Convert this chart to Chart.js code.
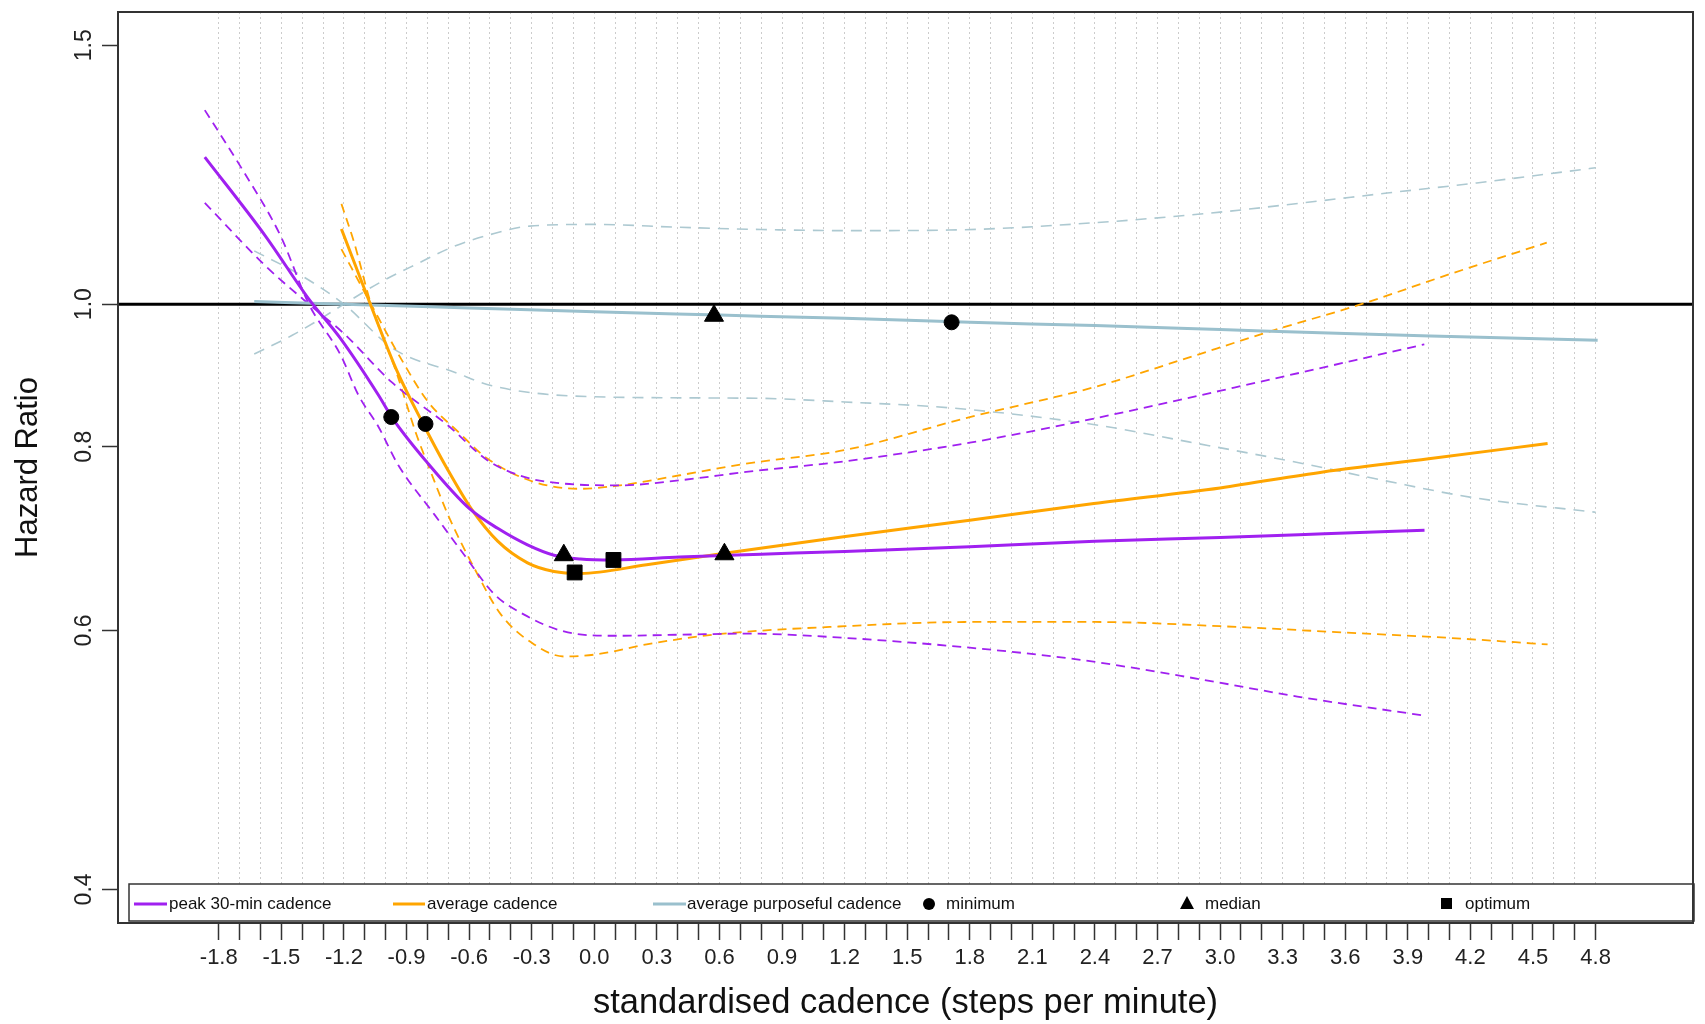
<!DOCTYPE html>
<html>
<head>
<meta charset="utf-8">
<script src="https://cdn.jsdelivr.net/npm/chart.js@4.4.0/dist/chart.umd.min.js"></script>
<style>
  html, body { margin: 0; padding: 0; background: #fff; }
</style>
</head>
<body>
<canvas id="hrChart" width="1705" height="1024"></canvas>
<script>
// Axis ticks
const xLabelTicks = [-1.8, -1.5, -1.2, -0.9, -0.6, -0.3, 0.0, 0.3, 0.6, 0.9, 1.2, 1.5, 1.8, 2.1, 2.4, 2.7, 3.0, 3.3, 3.6, 3.9, 4.2, 4.5, 4.8];
const yTicks = [0.4, 0.6, 0.8, 1.0, 1.5];
const refHR = 1.0;

// Series: [standardised cadence, hazard ratio]
const peakFit = [[-1.867, 1.259], [-1.577, 1.113], [-1.368, 1.008], [-1.215, 0.947], [-1.034, 0.867], [-0.971, 0.838], [-0.796, 0.779], [-0.598, 0.726], [-0.463, 0.704], [-0.320, 0.686], [-0.193, 0.675], [-0.066, 0.671], [0.093, 0.670], [0.409, 0.673], [0.8, 0.676], [1.2, 0.679], [1.8, 0.684], [2.4, 0.690], [3.0, 0.694], [3.5, 0.698], [3.98, 0.702]];
const peakBandA = [[-1.867, 1.355], [-1.686, 1.234], [-1.504, 1.113], [-1.368, 1.0], [-1.215, 0.923], [-1.13, 0.867], [-1.034, 0.825], [-0.939, 0.777], [-0.765, 0.719], [-0.622, 0.675], [-0.479, 0.635], [-0.336, 0.615], [-0.145, 0.599], [0.093, 0.595], [0.41, 0.596], [0.728, 0.597], [1.204, 0.593], [1.8, 0.584], [2.33, 0.573], [2.9, 0.556], [3.37, 0.541], [3.98, 0.525]];
const peakBandB = [[-1.867, 1.172], [-1.577, 1.062], [-1.368, 1.0], [-1.2, 0.955], [-0.971, 0.885], [-0.701, 0.827], [-0.511, 0.783], [-0.336, 0.763], [-0.145, 0.755], [0.124, 0.753], [0.41, 0.759], [0.728, 0.769], [1.204, 0.782], [1.8, 0.805], [2.395, 0.836], [3.183, 0.885], [3.979, 0.939]];

const avgFit = [[-1.212, 1.125], [-1.070, 0.997], [-0.943, 0.899], [-0.82, 0.829], [-0.701, 0.771], [-0.590, 0.726], [-0.463, 0.690], [-0.320, 0.667], [-0.193, 0.658], [-0.066, 0.656], [0.251, 0.665], [0.624, 0.677], [1.204, 0.695], [1.8, 0.713], [2.395, 0.732], [3.0, 0.750], [3.494, 0.769], [4.0, 0.785], [4.57, 0.804]];
const avgBandA = [[-1.212, 1.170], [-1.15, 1.10], [-1.07, 1.0], [-0.95, 0.90], [-0.852, 0.815], [-0.796, 0.777], [-0.701, 0.719], [-0.574, 0.661], [-0.447, 0.615], [-0.288, 0.587], [-0.145, 0.576], [0.013, 0.578], [0.251, 0.587], [0.569, 0.596], [1.204, 0.604], [1.8, 0.608], [2.4, 0.608], [3.0, 0.604], [3.6, 0.598], [4.1, 0.593], [4.57, 0.587]];
const avgBandB = [[-1.212, 1.090], [-1.07, 1.0], [-0.93, 0.92], [-0.796, 0.858], [-0.653, 0.819], [-0.511, 0.785], [-0.288, 0.757], [-0.066, 0.749], [0.124, 0.753], [0.41, 0.765], [0.728, 0.779], [1.204, 0.796], [1.8, 0.838], [2.395, 0.878], [2.8, 0.915], [3.237, 0.958], [3.677, 1.0], [4.1, 1.048], [4.566, 1.101]];

const purpFit = [[-1.63, 1.004], [-1.2, 1.0], [-0.6, 0.994], [0.0, 0.988], [0.6, 0.983], [1.2, 0.978], [1.8, 0.972], [2.4, 0.967], [3.0, 0.961], [3.6, 0.955], [4.2, 0.950], [4.81, 0.945]];
const purpBandA = [[-1.63, 0.925], [-1.45, 0.952], [-1.34, 0.972], [-1.2, 1.0], [-1.03, 1.034], [-0.85, 1.065], [-0.67, 1.095], [-0.5, 1.115], [-0.31, 1.130], [0.0, 1.133], [0.4, 1.128], [0.8, 1.124], [1.2, 1.122], [1.7, 1.123], [2.4, 1.136], [3.0, 1.155], [3.4, 1.172], [3.8, 1.19], [4.23, 1.209], [4.8, 1.238]];
const purpBandB = [[-1.63, 1.087], [-1.4, 1.045], [-1.2, 1.0], [-0.96, 0.932], [-0.67, 0.899], [-0.49, 0.880], [0.0, 0.865], [0.78, 0.863], [1.2, 0.858], [1.71, 0.850], [2.4, 0.828], [2.85, 0.806], [3.4, 0.779], [3.8, 0.758], [4.23, 0.738], [4.8, 0.722]];

// Markers
const minimumPts = [[-0.973, 0.838], [-0.809, 0.829], [1.713, 0.972]];
const medianPts = [[-0.146, 0.675], [0.624, 0.676], [0.574, 0.982]];
const optimumPts = [[0.092, 0.670], [-0.094, 0.657]];

const legendLabels = ['peak 30-min cadence', 'average cadence', 'average purposeful cadence', 'minimum', 'median', 'optimum'];

const PURPLE = '#a020f0';
const ORANGE = '#ffa500';
const TEAL = '#9ac0cd';
const TEAL_DASH = '#adc9d1';
const FONT = '"Liberation Sans", Arial, Helvetica, sans-serif';

const toXY = arr => arr.map(([x, y]) => ({ x, y }));

const lineSet = (label, pts, color, width, dash, order) => ({
    type: 'line',
    label,
    data: toXY(pts),
    borderColor: color,
    borderWidth: width,
    borderDash: dash,
    pointRadius: 0,
    fill: false,
    cubicInterpolationMode: 'monotone',
    order
});

const markerSet = (label, pts, style, radius) => ({
    type: 'scatter',
    label,
    data: toXY(pts),
    pointStyle: style,
    pointRadius: radius,
    pointBackgroundColor: '#000',
    pointBorderColor: '#000',
    pointBorderWidth: 1,
    order: 0
});

// x ticks every 0.1 between the first and last labelled tick
const xMinorTicks = [];
for (let k = Math.round(xLabelTicks[0] * 10); k <= Math.round(xLabelTicks[xLabelTicks.length - 1] * 10); k++) {
    xMinorTicks.push(k / 10);
}

// R-style decorations: reference line, legend box, frame, rotated y labels
const rPlot = {
    id: 'rPlot',
    beforeDatasetsDraw(chart) {
        const { ctx, chartArea: a, scales: { y } } = chart;
        const py = y.getPixelForValue(refHR);
        ctx.save();
        ctx.strokeStyle = '#000';
        ctx.lineWidth = 3;
        ctx.beginPath();
        ctx.moveTo(a.left, py);
        ctx.lineTo(a.right, py);
        ctx.stroke();
        ctx.restore();
    },
    afterDatasetsDraw(chart) {
        const { ctx, chartArea: a } = chart;
        ctx.save();
        // legend box
        const lx = a.left + 11, ly = 884, lw = 1694 - lx, lh = 37;
        ctx.fillStyle = '#fff';
        ctx.fillRect(lx, ly, lw, lh);
        ctx.strokeStyle = '#333';
        ctx.lineWidth = 1.5;
        ctx.strokeRect(lx, ly, lw, lh);

        const cy = ly + 20;
        ctx.font = '17px ' + FONT;
        ctx.fillStyle = '#111';
        ctx.textBaseline = 'middle';
        ctx.textAlign = 'left';

        const lineItems = [[134, 167, PURPLE, 169], [393, 425, ORANGE, 427], [653, 686, TEAL, 687]];
        lineItems.forEach(([x1, x2, col, tx], i) => {
            ctx.strokeStyle = col;
            ctx.lineWidth = 3;
            ctx.beginPath();
            ctx.moveTo(x1, cy);
            ctx.lineTo(x2, cy);
            ctx.stroke();
            ctx.fillText(legendLabels[i], tx, cy);
        });

        ctx.fillStyle = '#000';
        // circle
        ctx.beginPath();
        ctx.arc(929, cy, 6, 0, Math.PI * 2);
        ctx.fill();
        // triangle
        ctx.beginPath();
        ctx.moveTo(1187, cy - 8);
        ctx.lineTo(1194, cy + 5);
        ctx.lineTo(1180, cy + 5);
        ctx.closePath();
        ctx.fill();
        // square
        ctx.fillRect(1441, cy - 6, 11, 11);

        ctx.fillStyle = '#111';
        ctx.fillText(legendLabels[3], 946, cy);
        ctx.fillText(legendLabels[4], 1205, cy);
        ctx.fillText(legendLabels[5], 1465, cy);

        // plot frame
        ctx.strokeStyle = '#333';
        ctx.lineWidth = 2;
        ctx.strokeRect(a.left, a.top, a.right - a.left, a.bottom - a.top);
        ctx.restore();
    },
    afterDraw(chart) {
        const { ctx, scales: { y } } = chart;
        ctx.save();
        ctx.font = '23px ' + FONT;
        ctx.fillStyle = '#222';
        ctx.textAlign = 'center';
        ctx.textBaseline = 'middle';
        yTicks.forEach(v => {
            ctx.save();
            ctx.translate(85, y.getPixelForValue(v));
            ctx.rotate(-Math.PI / 2);
            ctx.fillText(v.toFixed(1), 0, 0);
            ctx.restore();
        });
        ctx.restore();
    }
};

new Chart(document.getElementById('hrChart'), {
    data: {
        datasets: [
            markerSet('minimum', minimumPts, 'circle', 7.5),
            markerSet('median', medianPts, 'triangle', 11),
            markerSet('optimum', optimumPts, 'rect', 10.5),
            lineSet('peak 30-min cadence', peakFit, PURPLE, 3, [], 1),
            lineSet('average cadence', avgFit, ORANGE, 3, [], 1),
            lineSet('average purposeful cadence', purpFit, TEAL, 3, [], 1),
            lineSet('peak CI a', peakBandA, PURPLE, 1.8, [9, 6], 2),
            lineSet('peak CI b', peakBandB, PURPLE, 1.8, [9, 6], 2),
            lineSet('average CI a', avgBandA, ORANGE, 1.8, [9, 6], 2),
            lineSet('average CI b', avgBandB, ORANGE, 1.8, [9, 6], 2),
            lineSet('purposeful CI a', purpBandA, TEAL_DASH, 1.6, [11, 8], 3),
            lineSet('purposeful CI b', purpBandB, TEAL_DASH, 1.6, [11, 8], 3)
        ]
    },
    options: {
        responsive: false,
        animation: false,
        layout: { padding: { left: 0, right: 2, top: 8, bottom: 0 } },
        plugins: {
            legend: { display: false },
            tooltip: { enabled: false }
        },
        scales: {
            x: {
                type: 'linear',
                position: 'bottom',
                min: -2.283,
                max: 5.267,
                bounds: 'data',
                afterBuildTicks: s => { s.ticks = xMinorTicks.map(v => ({ value: v })); },
                afterFit: s => { s.height = 101; },
                grid: {
                    color: '#cccccc',
                    lineWidth: 1,
                    drawTicks: true,
                    tickLength: 17,
                    tickColor: '#333',
                    tickWidth: 1.5
                },
                border: { display: false, dash: [2, 3] },
                ticks: {
                    autoSkip: false,
                    maxRotation: 0,
                    minRotation: 0,
                    padding: 5,
                    color: '#222',
                    font: { family: FONT, size: 22 },
                    callback: v => {
                        const k = Math.round(v * 10);
                        return xLabelTicks.some(t => Math.round(t * 10) === k) ? (k / 10).toFixed(1) : '';
                    }
                },
                title: {
                    display: true,
                    text: 'standardised cadence (steps per minute)',
                    color: '#111',
                    font: { family: FONT, size: 34.5 },
                    padding: { top: 0, bottom: 0 }
                }
            },
            y: {
                type: 'logarithmic',
                min: 0.3795,
                max: 1.58,
                bounds: 'data',
                afterBuildTicks: s => { s.ticks = yTicks.map(v => ({ value: v })); },
                afterFit: s => { s.width = 118; },
                grid: {
                    drawOnChartArea: false,
                    drawTicks: true,
                    tickLength: 16,
                    tickColor: '#333',
                    tickWidth: 1.5
                },
                border: { display: false },
                ticks: { display: false },
                title: {
                    display: true,
                    text: 'Hazard Ratio',
                    color: '#111',
                    font: { family: FONT, size: 31 },
                    padding: { top: 10, bottom: 0 }
                }
            }
        }
    },
    plugins: [rPlot]
});
</script>
</body>
</html>
